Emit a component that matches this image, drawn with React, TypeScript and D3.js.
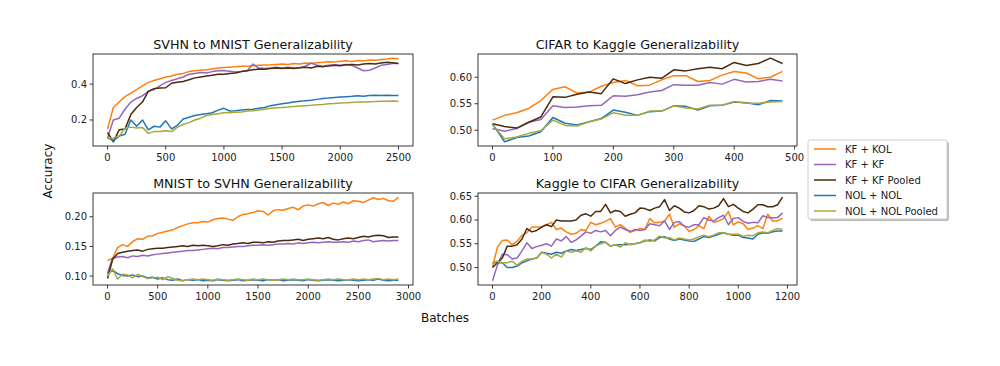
import * as d3 from 'd3';

// series names / colours (legend order = draw order)
const seriesNames = ["KF + KOL", "KF + KF", "KF + KF Pooled", "NOL + NOL", "NOL + NOL Pooled"];
const seriesColors = ["#ff7f0e", "#9467bd", "#4b2a0e", "#1f77b4", "#a9a83a"];

// SVHN to MNIST, batches 0..2500 every 50
const svhnMnistBatches = d3.range(0, 2501, 50);
const svhnMnistKfKol = [0.15, 0.27, 0.30, 0.33, 0.35, 0.37, 0.39, 0.41, 0.42, 0.43, 0.44, 0.445, 0.455, 0.46, 0.47, 0.475, 0.478, 0.48, 0.485, 0.49, 0.493, 0.495, 0.497, 0.50, 0.50, 0.503, 0.505, 0.507, 0.508, 0.51, 0.512, 0.51, 0.515, 0.513, 0.518, 0.515, 0.52, 0.522, 0.525, 0.523, 0.528, 0.53, 0.527, 0.532, 0.53, 0.535, 0.533, 0.538, 0.54, 0.545, 0.542];
const svhnMnistKfKf = [0.10, 0.20, 0.21, 0.26, 0.30, 0.32, 0.335, 0.36, 0.37, 0.39, 0.41, 0.42, 0.43, 0.44, 0.455, 0.46, 0.465, 0.462, 0.47, 0.475, 0.476, 0.472, 0.468, 0.47, 0.475, 0.512, 0.49, 0.488, 0.49, 0.495, 0.49, 0.495, 0.49, 0.492, 0.50, 0.518, 0.505, 0.50, 0.505, 0.508, 0.505, 0.51, 0.505, 0.49, 0.475, 0.478, 0.49, 0.505, 0.51, 0.515, 0.515];
const svhnMnistKfKfPooled = [0.13, 0.078, 0.145, 0.15, 0.23, 0.27, 0.30, 0.36, 0.375, 0.378, 0.38, 0.405, 0.41, 0.415, 0.425, 0.435, 0.44, 0.445, 0.45, 0.455, 0.455, 0.46, 0.462, 0.47, 0.475, 0.48, 0.485, 0.483, 0.488, 0.49, 0.488, 0.49, 0.487, 0.492, 0.495, 0.49, 0.50, 0.497, 0.502, 0.505, 0.503, 0.508, 0.51, 0.507, 0.512, 0.515, 0.512, 0.518, 0.522, 0.52, 0.515];
const svhnMnistNolNol = [0.10, 0.085, 0.11, 0.12, 0.20, 0.165, 0.20, 0.145, 0.165, 0.16, 0.195, 0.15, 0.17, 0.205, 0.215, 0.225, 0.23, 0.235, 0.24, 0.255, 0.265, 0.25, 0.252, 0.255, 0.258, 0.26, 0.265, 0.27, 0.28, 0.285, 0.29, 0.295, 0.30, 0.305, 0.308, 0.31, 0.315, 0.32, 0.322, 0.325, 0.328, 0.33, 0.332, 0.335, 0.333, 0.336, 0.338, 0.337, 0.338, 0.337, 0.337];
const svhnMnistNolNolPooled = [0.095, 0.10, 0.11, 0.155, 0.16, 0.155, 0.158, 0.125, 0.135, 0.135, 0.14, 0.135, 0.16, 0.175, 0.185, 0.20, 0.21, 0.225, 0.23, 0.235, 0.24, 0.24, 0.243, 0.245, 0.25, 0.252, 0.255, 0.26, 0.265, 0.268, 0.27, 0.272, 0.275, 0.278, 0.28, 0.282, 0.285, 0.287, 0.29, 0.292, 0.295, 0.296, 0.298, 0.30, 0.30, 0.302, 0.303, 0.305, 0.305, 0.306, 0.305];

// CIFAR to Kaggle, batches 0..480 every 20
const cifarKaggleBatches = d3.range(0, 481, 20);
const cifarKaggleKfKol = [0.519, 0.528, 0.533, 0.541, 0.556, 0.577, 0.582, 0.570, 0.572, 0.583, 0.590, 0.594, 0.584, 0.585, 0.595, 0.603, 0.603, 0.592, 0.594, 0.604, 0.611, 0.608, 0.597, 0.600, 0.611];
const cifarKaggleKfKf = [0.503, 0.498, 0.503, 0.515, 0.520, 0.546, 0.543, 0.544, 0.546, 0.547, 0.565, 0.564, 0.567, 0.572, 0.575, 0.586, 0.585, 0.585, 0.590, 0.587, 0.596, 0.591, 0.592, 0.596, 0.593];
const cifarKaggleKfKfPooled = [0.512, 0.507, 0.504, 0.515, 0.525, 0.563, 0.562, 0.568, 0.572, 0.569, 0.597, 0.588, 0.595, 0.600, 0.598, 0.614, 0.612, 0.616, 0.619, 0.616, 0.628, 0.622, 0.626, 0.636, 0.626];
const cifarKaggleNolNol = [0.512, 0.478, 0.486, 0.489, 0.497, 0.524, 0.513, 0.510, 0.516, 0.522, 0.538, 0.534, 0.528, 0.535, 0.536, 0.546, 0.545, 0.538, 0.546, 0.547, 0.553, 0.552, 0.548, 0.556, 0.555];
const cifarKaggleNolNolPooled = [0.510, 0.484, 0.487, 0.494, 0.499, 0.519, 0.509, 0.508, 0.516, 0.521, 0.533, 0.528, 0.528, 0.536, 0.536, 0.546, 0.542, 0.540, 0.547, 0.547, 0.554, 0.551, 0.551, 0.553, 0.554];

// MNIST to SVHN, batches 0..2900 every 50
const mnistSvhnBatches = d3.range(0, 2901, 50);
const mnistSvhnKfKol = [0.126, 0.13, 0.148, 0.153, 0.15, 0.158, 0.163, 0.162, 0.167, 0.168, 0.172, 0.174, 0.176, 0.178, 0.182, 0.185, 0.188, 0.19, 0.19, 0.192, 0.191, 0.195, 0.197, 0.198, 0.196, 0.194, 0.20, 0.204, 0.205, 0.207, 0.21, 0.209, 0.203, 0.21, 0.212, 0.211, 0.214, 0.216, 0.212, 0.218, 0.22, 0.218, 0.222, 0.224, 0.219, 0.223, 0.221, 0.225, 0.222, 0.227, 0.226, 0.224, 0.228, 0.232, 0.229, 0.231, 0.227, 0.226, 0.233];
const mnistSvhnKfKf = [0.105, 0.13, 0.132, 0.133, 0.131, 0.134, 0.133, 0.135, 0.134, 0.136, 0.137, 0.138, 0.139, 0.14, 0.141, 0.142, 0.143, 0.143, 0.144, 0.145, 0.146, 0.147, 0.146, 0.148, 0.148, 0.149, 0.15, 0.15, 0.151, 0.152, 0.152, 0.153, 0.152, 0.153, 0.154, 0.154, 0.155, 0.154, 0.156, 0.155, 0.156, 0.157, 0.156, 0.157, 0.158, 0.157, 0.157, 0.158, 0.157, 0.159, 0.158, 0.16, 0.161, 0.158, 0.159, 0.16, 0.159, 0.16, 0.16];
const mnistSvhnKfKfPooled = [0.096, 0.128, 0.138, 0.14, 0.142, 0.143, 0.144, 0.142, 0.145, 0.146, 0.147, 0.147, 0.148, 0.149, 0.15, 0.151, 0.15, 0.152, 0.151, 0.152, 0.151, 0.15, 0.151, 0.153, 0.152, 0.154, 0.155, 0.156, 0.155, 0.157, 0.157, 0.156, 0.158, 0.157, 0.159, 0.16, 0.16, 0.161, 0.162, 0.16, 0.162, 0.163, 0.164, 0.163, 0.165, 0.162, 0.161, 0.163, 0.164, 0.163, 0.165, 0.167, 0.166, 0.168, 0.169, 0.168, 0.165, 0.166, 0.166];
const mnistSvhnNolNol = [0.103, 0.11, 0.104, 0.101, 0.10, 0.102, 0.099, 0.10, 0.097, 0.098, 0.095, 0.097, 0.094, 0.093, 0.095, 0.092, 0.094, 0.093, 0.094, 0.092, 0.093, 0.092, 0.094, 0.093, 0.092, 0.093, 0.094, 0.092, 0.093, 0.094, 0.093, 0.092, 0.094, 0.093, 0.094, 0.092, 0.093, 0.094, 0.093, 0.092, 0.094, 0.093, 0.092, 0.093, 0.094, 0.093, 0.092, 0.093, 0.094, 0.093, 0.092, 0.093, 0.094, 0.093, 0.095, 0.093, 0.092, 0.093, 0.093];
const mnistSvhnNolNolPooled = [0.10, 0.112, 0.095, 0.103, 0.102, 0.097, 0.103, 0.099, 0.096, 0.097, 0.098, 0.094, 0.099, 0.096, 0.093, 0.092, 0.094, 0.095, 0.094, 0.095, 0.094, 0.093, 0.095, 0.094, 0.093, 0.094, 0.095, 0.094, 0.093, 0.095, 0.094, 0.095, 0.094, 0.093, 0.094, 0.095, 0.094, 0.095, 0.094, 0.094, 0.095, 0.094, 0.093, 0.094, 0.095, 0.094, 0.095, 0.094, 0.094, 0.095, 0.094, 0.095, 0.094, 0.095, 0.096, 0.094, 0.095, 0.094, 0.095];

// Kaggle to CIFAR, batches 0..1180 every 20
const kaggleCifarBatches = d3.range(0, 1181, 20);
const kaggleCifarKfKol = [0.50, 0.543, 0.557, 0.558, 0.548, 0.555, 0.568, 0.573, 0.585, 0.585, 0.586, 0.59, 0.595, 0.58, 0.583, 0.575, 0.57, 0.572, 0.58, 0.578, 0.595, 0.59, 0.593, 0.597, 0.603, 0.585, 0.59, 0.583, 0.574, 0.578, 0.582, 0.58, 0.603, 0.594, 0.595, 0.598, 0.612, 0.585, 0.592, 0.588, 0.576, 0.58, 0.588, 0.582, 0.608, 0.595, 0.598, 0.603, 0.618, 0.59, 0.596, 0.592, 0.58, 0.583, 0.588, 0.582, 0.612, 0.598, 0.598, 0.604];
const kaggleCifarKfKf = [0.472, 0.505, 0.528, 0.527, 0.518, 0.52, 0.535, 0.552, 0.54, 0.544, 0.547, 0.55, 0.545, 0.56, 0.556, 0.565, 0.553, 0.558, 0.566, 0.575, 0.572, 0.578, 0.575, 0.578, 0.567, 0.578, 0.585, 0.58, 0.576, 0.58, 0.578, 0.58, 0.592, 0.59, 0.588, 0.598, 0.58, 0.595, 0.597, 0.587, 0.585, 0.59, 0.59, 0.605, 0.60, 0.598, 0.605, 0.61, 0.59, 0.603, 0.605, 0.597, 0.593, 0.595, 0.594, 0.609, 0.605, 0.604, 0.605, 0.615];
const kaggleCifarKfKfPooled = [0.50, 0.51, 0.52, 0.545, 0.545, 0.548, 0.56, 0.582, 0.575, 0.578, 0.585, 0.59, 0.586, 0.60, 0.598, 0.598, 0.598, 0.60, 0.61, 0.613, 0.608, 0.618, 0.618, 0.633, 0.615, 0.62, 0.618, 0.608, 0.612, 0.615, 0.625, 0.624, 0.62, 0.625, 0.628, 0.643, 0.62, 0.63, 0.625, 0.617, 0.615, 0.62, 0.63, 0.628, 0.623, 0.625, 0.63, 0.645, 0.628, 0.633, 0.625, 0.618, 0.615, 0.623, 0.632, 0.632, 0.628, 0.628, 0.632, 0.648];
const kaggleCifarNolNol = [0.51, 0.51, 0.51, 0.50, 0.50, 0.503, 0.51, 0.514, 0.518, 0.52, 0.532, 0.53, 0.528, 0.532, 0.53, 0.535, 0.538, 0.536, 0.538, 0.54, 0.538, 0.545, 0.554, 0.553, 0.545, 0.548, 0.548, 0.548, 0.549, 0.55, 0.552, 0.556, 0.558, 0.556, 0.563, 0.565, 0.56, 0.557, 0.56, 0.558, 0.556, 0.555, 0.56, 0.565, 0.563, 0.566, 0.57, 0.573, 0.57, 0.568, 0.568, 0.563, 0.562, 0.56, 0.57, 0.573, 0.572, 0.575, 0.577, 0.577];
const kaggleCifarNolNolPooled = [0.51, 0.513, 0.51, 0.51, 0.513, 0.505, 0.513, 0.518, 0.518, 0.52, 0.532, 0.528, 0.52, 0.528, 0.522, 0.535, 0.532, 0.535, 0.532, 0.542, 0.535, 0.545, 0.55, 0.553, 0.545, 0.548, 0.543, 0.552, 0.548, 0.55, 0.552, 0.558, 0.555, 0.558, 0.566, 0.562, 0.563, 0.558, 0.562, 0.56, 0.558, 0.56, 0.565, 0.568, 0.565, 0.568, 0.573, 0.573, 0.57, 0.57, 0.57, 0.566, 0.568, 0.567, 0.573, 0.575, 0.573, 0.578, 0.582, 0.58];

const FONT = "DejaVu Sans, sans-serif";

interface PanelProps {
    title: string
    batches: number[]
    series: number[][]
    left: number
    right: number
    top: number
    bottom: number
    xTicks: number[]
    yTicks: number[]
    yFormat: string
}

const Panel = (props: PanelProps) => {
    const xExt = d3.extent(props.batches) as [number, number]
    const xPad = (xExt[1] - xExt[0]) * 0.05
    const x = d3.scaleLinear().domain([xExt[0] - xPad, xExt[1] + xPad]).range([props.left, props.right])

    const all = props.series.flat()
    const yExt = d3.extent(all) as [number, number]
    const yPad = (yExt[1] - yExt[0]) * 0.05
    const y = d3.scaleLinear().domain([yExt[0] - yPad, yExt[1] + yPad]).range([props.bottom, props.top])

    const fmt = d3.format(props.yFormat)
    const clipId = "clip-" + props.left + "-" + props.top

    return (
        <g>
            <defs>
                <clipPath id={clipId}>
                    <rect x={props.left} y={props.top} width={props.right - props.left} height={props.bottom - props.top} />
                </clipPath>
            </defs>
            <g clipPath={`url(#${clipId})`}>
                {props.series.map((vals, i) => {
                    const line = d3.line<number>()
                        .x((_, j) => x(props.batches[j]))
                        .y(d => y(d))
                    return <path key={i} d={line(vals) ?? ""} fill="none" stroke={seriesColors[i]} strokeWidth={1.5} strokeLinejoin="round" />
                })}
            </g>
            <rect x={props.left} y={props.top} width={props.right - props.left} height={props.bottom - props.top} fill="none" stroke="#222" strokeWidth={0.9} />
            {props.xTicks.map(t => (
                <g key={"x" + t} transform={`translate(${x(t)},${props.bottom})`}>
                    <line y2={3.5} stroke="#222" strokeWidth={0.9} />
                    <text y={15} textAnchor="middle" fontSize={10} fontFamily={FONT} fill="#222">{t}</text>
                </g>
            ))}
            {props.yTicks.map(t => (
                <g key={"y" + t} transform={`translate(${props.left},${y(t)})`}>
                    <line x2={-3.5} stroke="#222" strokeWidth={0.9} />
                    <text x={-6} dy="0.35em" textAnchor="end" fontSize={10} fontFamily={FONT} fill="#222">{fmt(t)}</text>
                </g>
            ))}
            <text x={(props.left + props.right) / 2} y={props.top - 5} textAnchor="middle" fontSize={12.7} fontFamily={FONT} fill="#111">{props.title}</text>
        </g>
    )
}

const Legend = () => {
    const lx = 808, ly = 140, w = 139, h = 79
    return (
        <g>
            <rect x={lx + 2} y={ly + 2} width={w} height={h} rx={2} fill="#000" opacity={0.25} />
            <rect x={lx} y={ly} width={w} height={h} rx={2} fill="#fff" stroke="#c8c8c8" strokeWidth={0.9} />
            {seriesNames.map((name, i) => (
                <g key={name} transform={`translate(${lx}, ${ly + 9 + i * 15.5})`}>
                    <line x1={6} x2={28} stroke={seriesColors[i]} strokeWidth={1.5} />
                    <text x={37} dy="0.35em" fontSize={10} fontFamily={FONT} fill="#222">{name}</text>
                </g>
            ))}
        </g>
    )
}

const App = () => {
    return (
        <svg width={1000} height={366} style={{position: 'absolute', left: 0, top: 0, background: '#fff'}}>
            <Panel title="SVHN to MNIST Generalizability" batches={svhnMnistBatches}
                series={[svhnMnistKfKol, svhnMnistKfKf, svhnMnistKfKfPooled, svhnMnistNolNol, svhnMnistNolNolPooled]}
                left={93} right={413} top={54} bottom={146}
                xTicks={[0, 500, 1000, 1500, 2000, 2500]} yTicks={[0.2, 0.4]} yFormat=".1f" />
            <Panel title="CIFAR to Kaggle Generalizability" batches={cifarKaggleBatches}
                series={[cifarKaggleKfKol, cifarKaggleKfKf, cifarKaggleKfKfPooled, cifarKaggleNolNol, cifarKaggleNolNolPooled]}
                left={478} right={797} top={54} bottom={146}
                xTicks={[0, 100, 200, 300, 400, 500]} yTicks={[0.50, 0.55, 0.60]} yFormat=".2f" />
            <Panel title="MNIST to SVHN Generalizability" batches={mnistSvhnBatches}
                series={[mnistSvhnKfKol, mnistSvhnKfKf, mnistSvhnKfKfPooled, mnistSvhnNolNol, mnistSvhnNolNolPooled]}
                left={93} right={413} top={193} bottom={285}
                xTicks={[0, 500, 1000, 1500, 2000, 2500, 3000]} yTicks={[0.10, 0.15, 0.20]} yFormat=".2f" />
            <Panel title="Kaggle to CIFAR Generalizability" batches={kaggleCifarBatches}
                series={[kaggleCifarKfKol, kaggleCifarKfKf, kaggleCifarKfKfPooled, kaggleCifarNolNol, kaggleCifarNolNolPooled]}
                left={478} right={797} top={193} bottom={285}
                xTicks={[0, 200, 400, 600, 800, 1000, 1200]} yTicks={[0.50, 0.55, 0.60, 0.65]} yFormat=".2f" />
            <text transform="translate(52,171) rotate(-90)" textAnchor="middle" fontSize={12} fontFamily={FONT} fill="#111">Accuracy</text>
            <text x={445} y={322} textAnchor="middle" fontSize={12} fontFamily={FONT} fill="#111">Batches</text>
            <Legend />
        </svg>
    )
}

export default App
